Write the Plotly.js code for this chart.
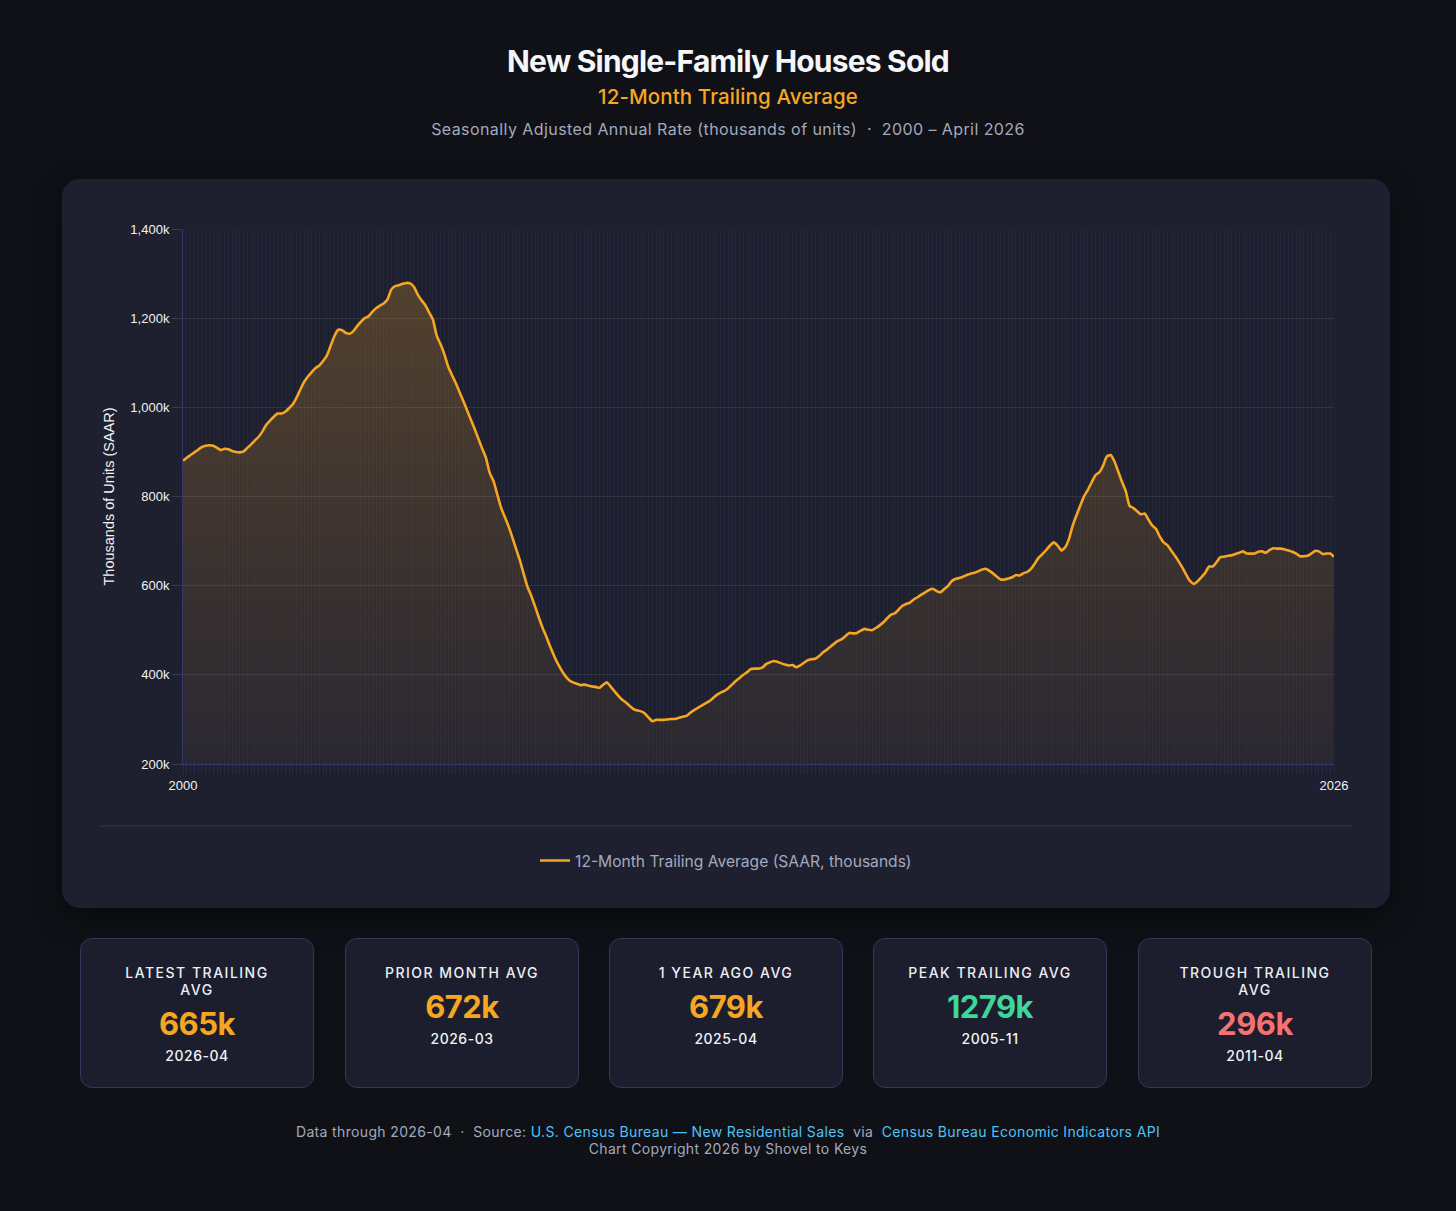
<!DOCTYPE html>
<html>
<head>
<meta charset="utf-8">
<script src="https://cdn.plot.ly/plotly-3.0.1.min.js"></script>
<style>
  html,body{margin:0;padding:0;}
  body{background:#0f1117;width:1456px;height:1211px;overflow:hidden;position:relative;font-family:Inter,"Noto Sans",sans-serif;}
  .t1{position:absolute;top:42px;left:0;width:1456px;text-align:center;font-size:30px;line-height:38px;font-weight:700;color:#f5f6f8;letter-spacing:-0.8px;}
  .t2{position:absolute;top:84px;left:0;width:1456px;text-align:center;font-size:20.5px;line-height:26px;font-weight:500;color:#f5a623;letter-spacing:0.1px;}
  .t3{position:absolute;top:118px;left:0;width:1456px;text-align:center;font-size:16px;line-height:22px;color:#a3a9bd;letter-spacing:0.42px;}
  .panel{position:absolute;left:62px;top:179px;width:1328px;height:729px;background:#1e2030;border-radius:18px;box-shadow:0 10px 30px rgba(0,0,0,0.45);}
  #chart{position:absolute;left:0;top:0;width:1328px;height:729px;}
  .card{position:absolute;top:938px;width:232px;height:148px;background:#1c1e2d;border:1px solid #34375a;border-radius:12px;text-align:center;box-sizing:content-box;}
  .lab{margin-top:25px;font-size:14px;line-height:17px;font-weight:500;letter-spacing:1.5px;color:#eceef4;}
  .val{margin-top:8px;font-size:31px;line-height:36px;font-weight:700;letter-spacing:-0.5px;}
  .dt{margin-top:5px;font-size:14px;line-height:17px;font-weight:500;color:#f2f3f6;letter-spacing:0.5px;}
  .foot{position:absolute;top:1123px;left:0;width:1456px;text-align:center;font-size:14px;line-height:17px;color:#a3a9bd;letter-spacing:0.35px;}
  .foot a{color:#4fc3f7;text-decoration:none;}
</style>
</head>
<body>
<div class="t1">New Single-Family Houses Sold</div>
<div class="t2">12-Month Trailing Average</div>
<div class="t3">Seasonally Adjusted Annual Rate (thousands of units) &nbsp;·&nbsp; 2000 – April 2026</div>

<div class="panel"><div id="chart"></div></div>

<div class="card" style="left:80px"><div class="lab">LATEST TRAILING<br>AVG</div><div class="val" style="color:#f5a623">665k</div><div class="dt">2026-04</div></div>
<div class="card" style="left:345px"><div class="lab">PRIOR MONTH AVG</div><div class="val" style="color:#f5a623">672k</div><div class="dt">2026-03</div></div>
<div class="card" style="left:609px"><div class="lab">1 YEAR AGO AVG</div><div class="val" style="color:#f5a623">679k</div><div class="dt">2025-04</div></div>
<div class="card" style="left:873px"><div class="lab">PEAK TRAILING AVG</div><div class="val" style="color:#3fd59b">1279k</div><div class="dt">2005-11</div></div>
<div class="card" style="left:1138px"><div class="lab">TROUGH TRAILING<br>AVG</div><div class="val" style="color:#f87171">296k</div><div class="dt">2011-04</div></div>

<div class="foot">Data through 2026-04 &nbsp;·&nbsp; Source: <a>U.S. Census Bureau — New Residential Sales</a> &nbsp;via &nbsp;<a>Census Bureau Economic Indicators API</a><br>Chart Copyright 2026 by Shovel to Keys</div>

<script>
// First data point is 2000-12 (first full 12-month window), last is 2026-04
const startYear = 2000;
const startMonth = 12;

// 12-month trailing average, SAAR, thousands of units
const trailingAvg = [
  880,
  887,893,899,905,911,914,915,914,909,904,907,906,
  902,900,899,901,909,917,926,934,946,961,970,979,
  986,986,990,998,1007,1022,1040,1057,1069,1079,1088,1094,
  1104,1116,1138,1160,1174,1173,1167,1165,1171,1182,1192,1200,
  1204,1214,1222,1228,1233,1242,1264,1272,1274,1277,1279,1278,
  1270,1253,1240,1229,1213,1197,1161,1142,1120,1092,1073,1055,
  1035,1015,994,973,952,930,908,887,853,835,805,775,
  754,733,708,682,656,626,597,577,553,528,505,485,
  463,443,425,410,397,388,383,380,377,378,376,374,
  373,371,378,383,373,363,353,344,338,330,323,320,
  318,313,304,296,299,299,299,300,301,301,304,306,
  308,315,321,326,331,336,341,348,355,360,364,370,
  378,386,393,400,406,413,414,414,416,424,428,431,
  429,426,423,421,422,417,421,427,433,435,436,442,
  450,456,463,470,476,480,487,494,493,494,499,503,
  501,500,505,511,518,527,535,538,546,555,559,562,
  569,574,580,585,590,593,588,585,592,599,610,615,
  617,620,624,627,629,632,636,638,633,627,620,614,
  614,616,619,624,623,628,631,638,650,663,671,680,
  690,697,690,679,686,705,735,758,780,801,815,832,
  848,854,869,890,893,879,856,833,812,779,774,767,
  760,762,748,735,727,710,697,691,679,667,654,640,
  624,610,604,610,619,629,643,643,653,664,665,667,
  668,671,674,677,672,672,672,676,677,674,680,684,
  683,683,681,679,676,672,666,666,667,672,678,677,
  671,672,672,665
];

const yTicks = [200, 400, 600, 800, 1000, 1200, 1400];
const yTickLabels = ['200k', '400k', '600k', '800k', '1,000k', '1,200k', '1,400k'];
const xEndLabels = ['2000', '2026'];
const seriesName = '12-Month Trailing Average (SAAR, thousands)';

// monthly category labels
const months = [];
for (let i = 0; i < trailingAvg.length; i++) {
  const m = startMonth - 1 + i;
  months.push((startYear + Math.floor(m / 12)) + '-' + String(m % 12 + 1).padStart(2, '0'));
}
const tickText = months.map((m, i) => i === 0 ? xEndLabels[0] : (i === months.length - 1 ? xEndLabels[1] : ''));

const axisFont = {family: 'Liberation Sans, Arial, sans-serif', size: 13, color: '#f2f2f2'};

const fillTrace = {
  x: months, y: trailingAvg, type: 'scatter', mode: 'lines',
  line: {width: 0, color: 'rgba(0,0,0,0)', shape: 'spline', smoothing: 0.5},
  fill: 'tozeroy',
  fillcolor: 'rgba(245,166,35,0.12)',
  fillgradient: {type: 'vertical', start: 200, stop: 1300,
    colorscale: [[0, 'rgba(245,166,35,0.05)'], [1, 'rgba(245,166,35,0.24)']]},
  showlegend: false, hoverinfo: 'skip'
};
const lineTrace = {
  x: months, y: trailingAvg, type: 'scatter', mode: 'lines', name: seriesName,
  line: {color: '#f5a623', width: 2.6, shape: 'spline', smoothing: 0.5},
  showlegend: true
};

const layout = {
  width: 1328, height: 729,
  paper_bgcolor: 'rgba(0,0,0,0)', plot_bgcolor: 'rgba(0,0,0,0)',
  margin: {l: 121, r: 56, t: 50, b: 144},
  showlegend: true,
  xaxis: {
    type: 'category', range: [0, months.length - 1],
    tickmode: 'array', tickvals: months, ticktext: tickText,
    showgrid: true, gridcolor: 'rgba(130,140,210,0.05)', gridwidth: 1,
    ticks: 'outside', ticklen: 9, tickcolor: 'rgba(130,140,210,0.10)', tickwidth: 1,
    tickfont: axisFont, tickangle: 0,
    showline: true, linecolor: '#34386a', linewidth: 1,
    zeroline: false, fixedrange: true
  },
  yaxis: {
    range: [200, 1400], tickmode: 'array', tickvals: yTicks, ticktext: yTickLabels,
    showgrid: true, gridcolor: 'rgba(255,255,255,0.085)',
    ticks: 'outside', ticklen: 10, tickcolor: 'rgba(255,255,255,0.12)',
    tickfont: axisFont,
    showline: true, linecolor: '#34386a', linewidth: 1,
    zeroline: false, fixedrange: true,
    title: {text: 'Thousands of Units (SAAR)', font: {family: 'Liberation Sans, Arial, sans-serif', size: 14.5, color: '#f2f2f2'}, standoff: 12}
  },
  legend: {
    orientation: 'h', x: 0.4718, xanchor: 'center', y: -0.181, yanchor: 'middle',
    font: {family: 'Inter, Noto Sans, sans-serif', size: 15.6, color: '#a3a9bf'},
    bgcolor: 'rgba(0,0,0,0)'
  },
  shapes: [{
    type: 'line', xref: 'paper', yref: 'paper',
    x0: -0.0721, x1: 1.0156, y0: -0.1159, y1: -0.1159,
    line: {color: '#31345e', width: 1}
  }]
};

Plotly.newPlot('chart', [fillTrace, lineTrace], layout, {displayModeBar: false, staticPlot: true});
</script>
</body>
</html>
